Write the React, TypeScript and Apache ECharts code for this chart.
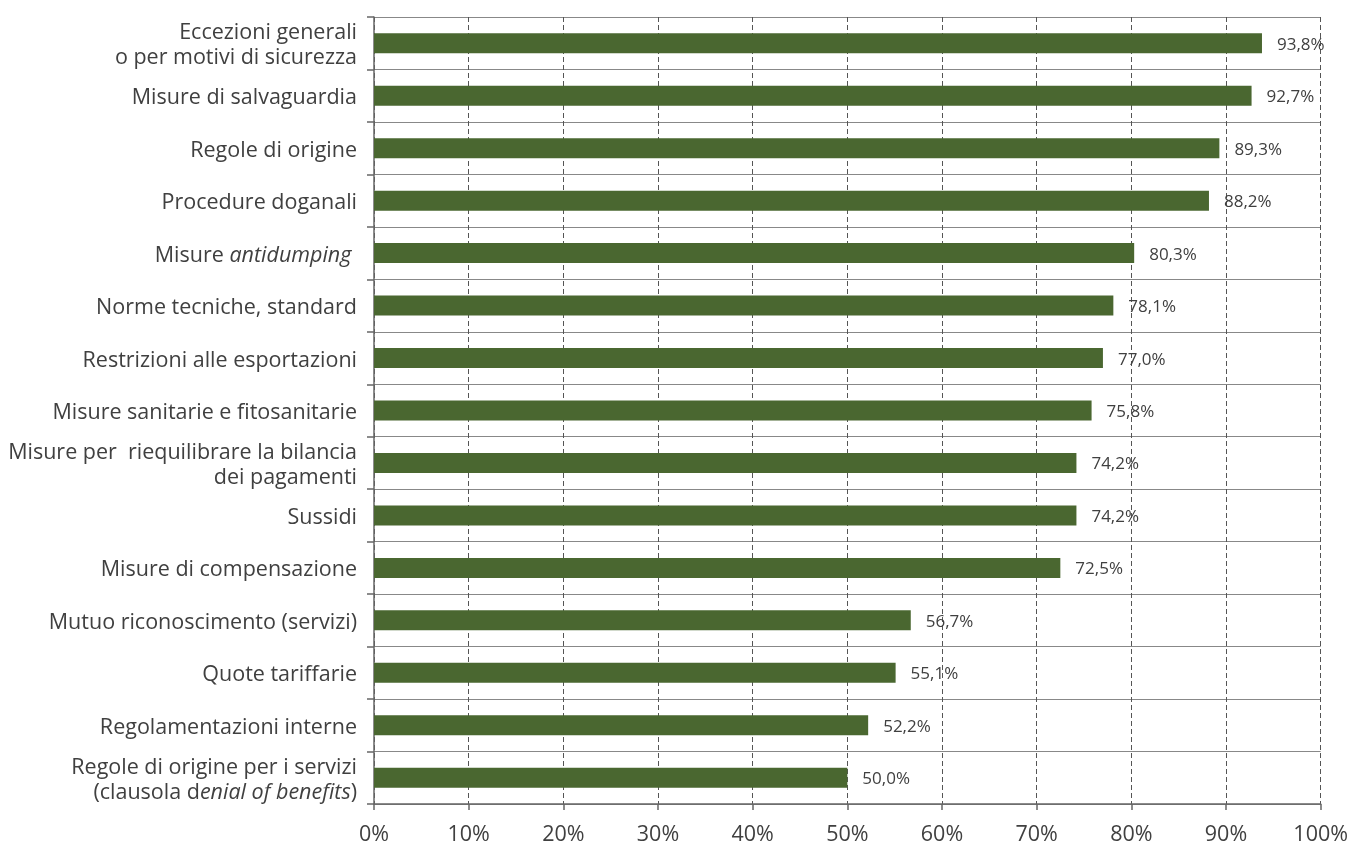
import React, { useEffect, useRef } from "react";
import * as echarts from "echarts";

const categories: string[] = [
  "Eccezioni generali\no per motivi di sicurezza",
  "Misure di salvaguardia",
  "Regole di origine",
  "Procedure doganali",
  "Misure antidumping ",
  "Norme tecniche, standard",
  "Restrizioni alle esportazioni",
  "Misure sanitarie e fitosanitarie",
  "Misure per  riequilibrare la bilancia\ndei pagamenti",
  "Sussidi",
  "Misure di compensazione",
  "Mutuo riconoscimento (servizi)",
  "Quote tariffarie",
  "Regolamentazioni interne",
  "Regole di origine per i servizi\n(clausola denial of benefits)",
];

const values: number[] = [93.8, 92.7, 89.3, 88.2, 80.3, 78.1, 77.0, 75.8, 74.2, 74.2, 72.5, 56.7, 55.1, 52.2, 50.0];

const italicParts: string[] = ["antidumping", "enial of benefits"];

const FONT = "'Open Sans', 'Noto Sans', sans-serif";
const TEXT = "#404040";

export default function App() {
  const ref = useRef<HTMLDivElement>(null);
  useEffect(() => {
    if (!ref.current) return;
    const chart = echarts.init(ref.current, undefined, { renderer: "svg" });
    chart.setOption({
      animation: false,
      grid: { left: 374, right: 27, top: 17, bottom: 45, containLabel: false },
      xAxis: {
        type: "value",
        min: 0,
        max: 100,
        interval: 10,
        axisLine: { show: true, lineStyle: { color: "#666", width: 1.5 } },
        axisTick: { show: true, length: 6, lineStyle: { color: "#666", width: 1.5 } },
        axisLabel: {
          formatter: (v: number) => v + "%",
          fontFamily: FONT,
          fontSize: 21.5,
          color: TEXT,
          margin: 17,
        },
        splitLine: { show: true, lineStyle: { color: "#555", type: [5, 3], width: 1 } },
      },
      yAxis: {
        type: "category",
        inverse: true,
        data: categories,
        axisLine: { show: true, lineStyle: { color: "#666", width: 1.5 } },
        axisTick: { show: true, length: 7, lineStyle: { color: "#666", width: 1.5 } },
        splitLine: { show: true, lineStyle: { color: "#888", width: 1.2 } },
        axisLabel: {
          fontFamily: FONT,
          fontSize: 21.5,
          color: TEXT,
          margin: 17,
          lineHeight: 25,
          align: "right",
          formatter: (label: string) => {
            let s = label;
            italicParts.forEach((p) => {
              s = s.replace(p, "{i|" + p + "}");
            });
            return s;
          },
          rich: {
            i: { fontStyle: "italic", fontFamily: FONT, fontSize: 21.5, color: TEXT, lineHeight: 25 },
          },
        },
      },
      series: [
        {
          type: "bar",
          data: values,
          barWidth: 20,
          itemStyle: { color: "#4a6730" },
          label: {
            show: true,
            position: "right",
            distance: 15,
            fontFamily: FONT,
            fontSize: 17,
            color: TEXT,
            formatter: (p: any) => p.value.toFixed(1).replace(".", ",") + "%",
          },
        },
      ],
    });
    return () => chart.dispose();
  }, []);
  return (
    <div
      ref={ref}
      style={{ position: "fixed", left: 0, top: 0, width: 1351, height: 849, overflow: "hidden" }}
    />
  );
}
